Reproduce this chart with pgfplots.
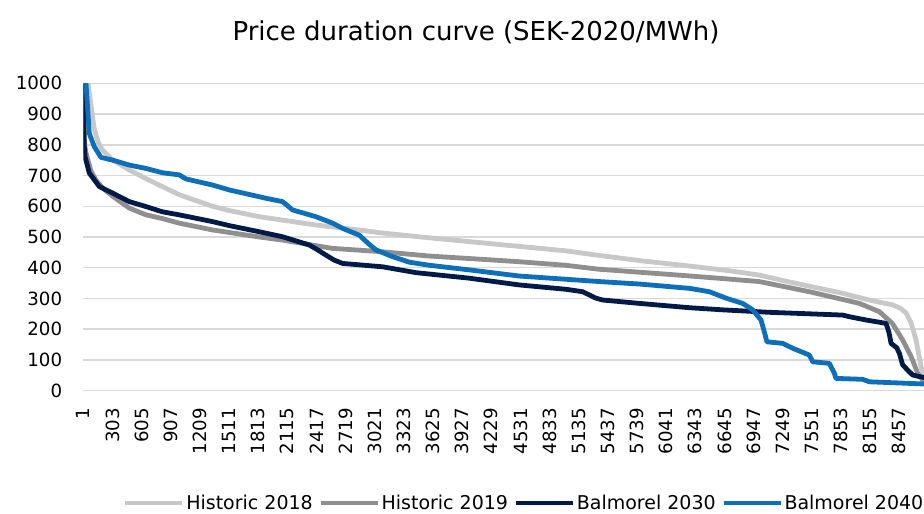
\documentclass[border=0pt]{standalone}
\usepackage{fontspec}
\setmainfont{DejaVu Sans}
\usepackage{graphicx}
\usepackage{pgfplots}
\pgfplotsset{compat=1.18}
\definecolor{c18}{HTML}{C8C8C8}
\definecolor{c19}{HTML}{8F8F8F}
\definecolor{c30}{HTML}{001A48}
\definecolor{c40}{HTML}{0D6EB9}
\definecolor{gridc}{HTML}{D9D9D9}
\newcommand{\rl}[1]{\rotatebox{90}{#1}}
\begin{document}
\begin{tikzpicture}
\useasboundingbox (0,0) rectangle (924pt,514pt);
\begin{axis}[
  at={(83.3pt,123.3pt)}, anchor=south west,
  width=845.2pt, height=307.4pt, scale only axis,
  xmin=1, xmax=8760, ymin=0, ymax=1000,
  axis line style={draw=none},
  major tick length=0pt,
  ymajorgrids, grid style={gridc, line width=1.5pt},
  ytick={0,100,200,300,400,500,600,700,800,900,1000},
  yticklabels={0,100,200,300,400,500,600,700,800,900,1000},
  xtick={1,303,605,907,1209,1511,1813,2115,2417,2719,3021,3323,3625,3927,4229,4531,4833,5135,5437,5739,6041,6343,6645,6947,7249,7551,7853,8155,8457},
  xticklabels={\rl{1},\rl{303},\rl{605},\rl{907},\rl{1209},\rl{1511},\rl{1813},\rl{2115},\rl{2417},\rl{2719},\rl{3021},\rl{3323},\rl{3625},\rl{3927},\rl{4229},\rl{4531},\rl{4833},\rl{5135},\rl{5437},\rl{5739},\rl{6041},\rl{6343},\rl{6645},\rl{6947},\rl{7249},\rl{7551},\rl{7853},\rl{8155},\rl{8457}},
  yticklabel style={font=\fontsize{18.2pt}{22pt}\selectfont, inner sep=0pt},
  xticklabel style={font=\fontsize{18.2pt}{22pt}\selectfont, inner sep=0pt, anchor=north},
  yticklabel shift=21pt,
  xticklabel shift=17pt,
  legend columns=4,
  legend style={draw=none, fill=none, inner sep=0pt, outer sep=0pt,
    at={(0.047,-0.3653)}, anchor=west,
    font=\fontsize{19pt}{23pt}\selectfont,
    nodes={inner xsep=1.5pt, inner ysep=0pt},
    /tikz/every even column/.append style={column sep=4pt}},
  legend image code/.code={\draw[#1] (0pt,0pt) -- (57pt,0pt);},
  every axis plot/.append style={line width=4.8pt, line join=round},
]
\addplot[c18] coordinates {
(1,1200) (50,1000) (80,930) (115,850) (160,805) (200,783) (300,752) (478,718) (650,690) (820,664) (1000,637) (1200,615) (1340,600) (1514,586) (1825,566) (2064,555) (2412,539) (2800,525) (3100,513) (3500,500) (4000,485) (4500,470) (5000,455) (5349,440) (5800,422) (6300,405) (6700,390) (7007,376) (7300,355) (7600,335) (7867,317) (8147,295) (8389,279) (8470,268) (8527,253) (8580,220) (8631,165) (8683,78) (8720,40) (8760,20)
};
\addlegendentry{Historic 2018}
\addplot[c19] coordinates {
(1,1000) (15,800) (29,773) (80,715) (132,685) (200,660) (304,633) (478,594) (651,572) (820,560) (996,545) (1340,523) (1825,500) (2064,490) (2582,463) (3100,452) (3587,438) (4000,430) (4500,420) (5000,408) (5349,395) (6000,380) (6500,368) (7007,355) (7525,322) (8044,284) (8251,257) (8385,219) (8492,165) (8580,111) (8648,57) (8700,35) (8760,25)
};
\addlegendentry{Historic 2019}
\addplot[c30] coordinates {
(1,1000) (10,800) (20,761) (63,708) (167,664) (304,643) (478,615) (651,599) (820,582) (996,572) (1341,550) (1514,537) (1825,517) (2064,501) (2343,474) (2420,460) (2516,441) (2600,425) (2688,414) (3103,403) (3449,384) (4001,366) (4520,344) (5000,330) (5176,322) (5314,301) (5383,295) (5763,284) (6281,270) (6627,263) (7111,255) (7870,246) (7950,240) (8113,230) (8320,219) (8350,190) (8372,154) (8430,140) (8458,122) (8492,84) (8544,67) (8596,51) (8665,46) (8760,40)
};
\addlegendentry{Balmorel 2030}
\addplot[c40] coordinates {
(1,1100) (29,1000) (63,837) (115,794) (184,759) (305,750) (478,734) (651,723) (820,709) (996,702) (1065,689) (1341,669) (1514,653) (1825,631) (1894,626) (2066,615) (2170,588) (2412,566) (2585,545) (2688,528) (2861,506) (2950,480) (3034,458) (3207,436) (3380,418) (3587,408) (4001,393) (4520,373) (5349,355) (5763,347) (6281,333) (6489,322) (6662,301) (6834,284) (6938,263) (7024,230) (7060,190) (7085,159) (7249,154) (7353,138) (7525,116) (7560,94) (7732,89) (7784,57) (7801,40) (8077,37) (8147,29) (8700,22) (8760,22)
};
\addlegendentry{Balmorel 2040}
\end{axis}
\node[anchor=base, font=\fontsize{26pt}{30pt}\selectfont] at (476pt,473pt) {Price duration curve (SEK-2020/MWh)};
\end{tikzpicture}
\end{document}
